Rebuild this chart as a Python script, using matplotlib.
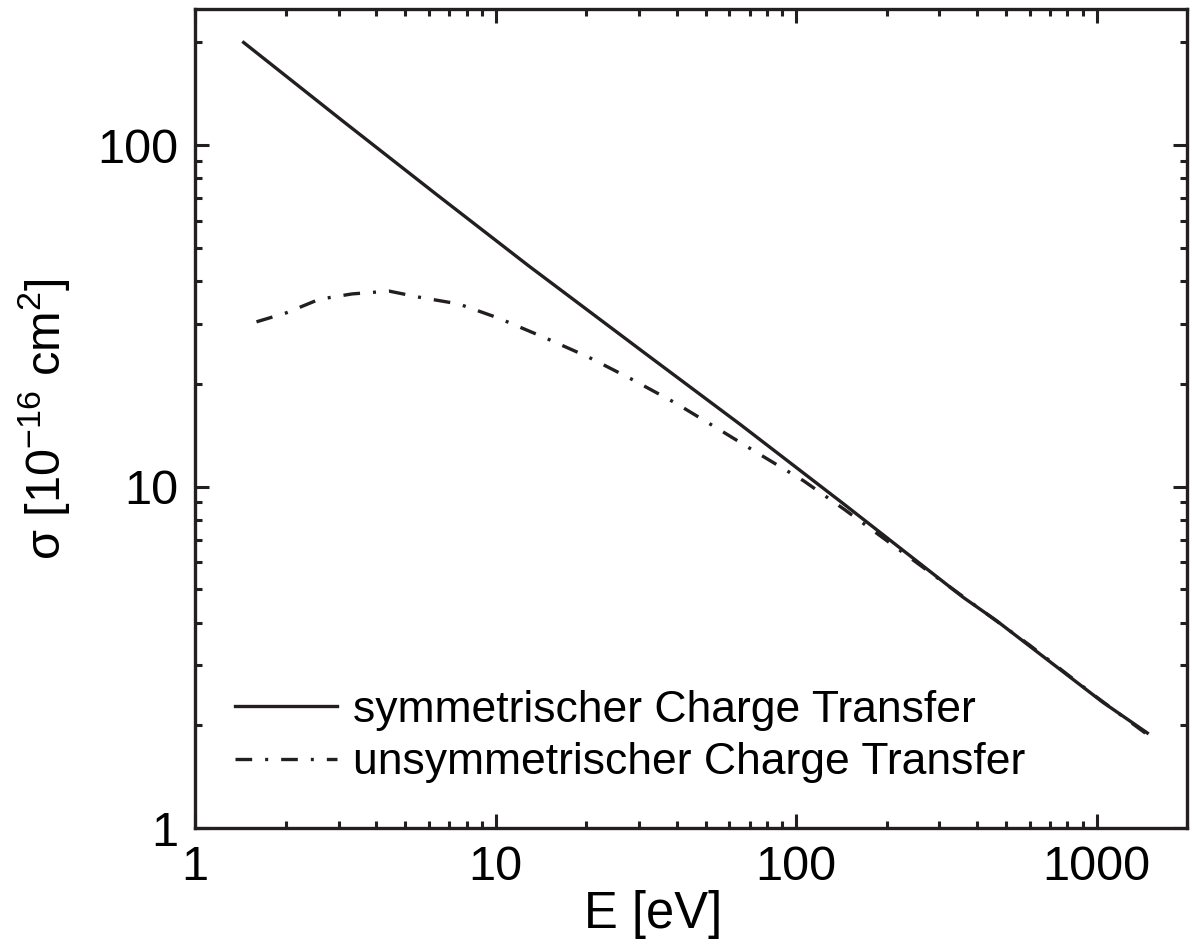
import numpy as np
import matplotlib
matplotlib.use('Agg')
import matplotlib.pyplot as plt

plt.rcParams['font.family'] = ['Liberation Sans', 'DejaVu Sans']
plt.rcParams['mathtext.default'] = 'regular'

# symmetric charge transfer
E_sym = [1.45, 3.09, 6.34, 12.9, 31.4, 65.3, 145, 360, 463, 1047, 1475]
sig_sym = [200, 118, 71.9, 44.3, 24.6, 15.2, 8.86, 4.74, 4.06, 2.34, 1.90]

# unsymmetric charge transfer
E_uns = [1.60, 2.01, 2.59, 3.33, 4.42, 5.56, 7.53, 10.2, 14.6, 20.3, 28.2, 39.6,
         54.8, 76.1, 106, 145, 282, 600, 1000, 1475]
sig_uns = [30.4, 32.3, 35.4, 36.7, 37.4, 35.9, 34.3, 31.2, 27.3, 24.0, 20.7, 17.6,
           14.8, 12.4, 10.4, 8.57, 5.57, 3.43, 2.42, 1.88]

labels = ['symmetrischer Charge Transfer', 'unsymmetrischer Charge Transfer']

fig = plt.figure(figsize=(11.9, 9.4), dpi=100)
ax = fig.add_axes([0.164, 0.119, 0.8335, 0.871])

ax.plot(E_sym, sig_sym, color='#231f20', lw=2.4, label=labels[0])
ax.plot(E_uns, sig_uns, color='#231f20', lw=2.4, ls=(0, (5.0, 3.9, 0.9, 3.9)),
        label=labels[1])

ax.set_xscale('log'); ax.set_yscale('log')
ax.set_xlim(1, 2000); ax.set_ylim(1, 250)
ax.set_xticks([1, 10, 100, 1000]); ax.set_xticklabels(['1', '10', '100', '1000'])
ax.set_yticks([1, 10, 100]); ax.set_yticklabels(['1', '10', '100'])

for s in ax.spines.values():
    s.set_linewidth(2.4); s.set_color('#231f20')
ax.tick_params(which='both', direction='in', top=True, right=True, color='#231f20',
               labelsize=35, width=2.2)
ax.tick_params(which='major', length=10, pad=12)
ax.tick_params(which='minor', length=5)

ax.set_xlabel('E [eV]', fontsize=36.5)
ax.xaxis.set_label_coords(0.462, -0.075)
ax.set_ylabel(r'σ [10$^{-16}$ cm$^{2}$]', fontsize=35, labelpad=18)

ax.legend(loc='lower left', bbox_to_anchor=(0.04, 0.055), frameon=False, fontsize=32,
          handlelength=2.3, handletextpad=0.35, labelspacing=0.25, borderpad=0,
          borderaxespad=0)

fig.savefig('out.png', dpi=100)
